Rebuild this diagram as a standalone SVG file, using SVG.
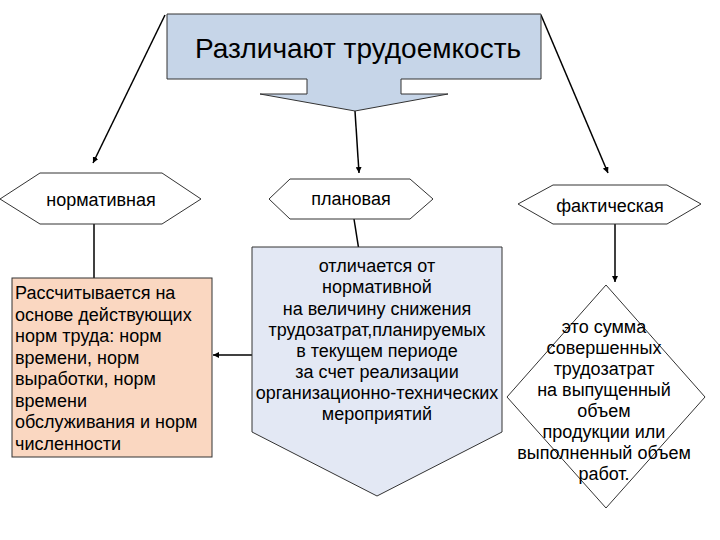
<svg xmlns="http://www.w3.org/2000/svg" width="720" height="540" viewBox="0 0 720 540">
<defs>
<style>
text{font-family:"Liberation Sans",Arial,sans-serif;fill:#000}
.t18{font-size:18px}
.mid{text-anchor:middle}
.shape{stroke:#333;stroke-width:1}
.conn{stroke:#000;stroke-width:1.5;fill:none}
</style>
<marker id="ah" viewBox="0 0 10 10" refX="10" refY="5" markerWidth="6" markerHeight="6" markerUnits="userSpaceOnUse" orient="auto">
<path d="M0,0 L10,5 L0,10 z" fill="#000"/>
</marker>
</defs>
<rect width="720" height="540" fill="#fff"/>
<g id="connectors">
<line class="conn" x1="165" y1="15" x2="93" y2="163" marker-end="url(#ah)"/>
<line class="conn" x1="355" y1="111" x2="359" y2="173" marker-end="url(#ah)"/>
<line class="conn" x1="541" y1="15" x2="608" y2="173" marker-end="url(#ah)"/>
<line class="conn" x1="94" y1="224" x2="94" y2="278"/>
<line class="conn" x1="354" y1="219" x2="360" y2="257" marker-end="url(#ah)"/>
<line class="conn" x1="615" y1="224" x2="615" y2="282" marker-end="url(#ah)"/>
<line class="conn" x1="258" y1="355" x2="213" y2="355" marker-end="url(#ah)"/>
</g>
<g id="title">
<polygon class="shape" fill="#c6d5e8" points="167,14 541,14 541,79 401,79 401,94 448,94 355,111 260,94 307,94 307,79 167,79"/>
<text x="358" y="58" font-size="28" class="mid">Различают трудоемкость</text>
</g>
<g id="normative">
<polygon class="shape" fill="#fff" points="0,199 40,173 162,173 201,199 162,224 40,224"/>
<text x="101" y="206" class="t18 mid">нормативная</text>
</g>
<g id="planned">
<polygon class="shape" fill="#fff" points="269,199 290,179 410,179 433,199 410,219 290,219"/>
<text x="351" y="205" class="t18 mid">плановая</text>
</g>
<g id="actual">
<polygon class="shape" fill="#fff" points="518,204 553,185 667,185 701,204 667,224 553,224"/>
<text x="610" y="212" class="t18 mid">фактическая</text>
</g>
<g id="normative-desc">
<rect class="shape" x="12" y="278" width="200" height="179" fill="#fad7c1"/>
<text class="t18" x="15" y="299">Рассчитывается на</text>
<text class="t18" x="15" y="320.5">основе действующих</text>
<text class="t18" x="15" y="342">норм труда: норм</text>
<text class="t18" x="15" y="363.5">времени, норм</text>
<text class="t18" x="15" y="385">выработки, норм</text>
<text class="t18" x="15" y="406.5">времени</text>
<text class="t18" x="15" y="428">обслуживания и норм</text>
<text class="t18" x="15" y="449.5">численности</text>
</g>
<g id="planned-desc">
<polygon class="shape" fill="#e3e8f4" points="252,247 502,247 502,432 377,496 252,432"/>
<text class="t18 mid" x="377" y="272">отличается от</text>
<text class="t18 mid" x="377" y="293">нормативной</text>
<text class="t18 mid" x="377" y="314.5">на величину снижения</text>
<text class="t18 mid" x="377" y="335.5">трудозатрат,планируемых</text>
<text class="t18 mid" x="377" y="356.5">в текущем периоде</text>
<text class="t18 mid" x="377" y="378">за счет реализации</text>
<text class="t18 mid" x="377" y="399">организационно-технических</text>
<text class="t18 mid" x="377" y="420">мероприятий</text>
</g>
<g id="actual-desc">
<polygon class="shape" fill="#fff" points="606,285 705,397 606,508 507,397"/>
<text class="t18 mid" x="604" y="333">это сумма</text>
<text class="t18 mid" x="604" y="354">совершенных</text>
<text class="t18 mid" x="604" y="375">трудозатрат</text>
<text class="t18 mid" x="604" y="396">на выпущенный</text>
<text class="t18 mid" x="604" y="417">объем</text>
<text class="t18 mid" x="604" y="438">продукции или</text>
<text class="t18 mid" x="604" y="459">выполненный объем</text>
<text class="t18 mid" x="604" y="480">работ.</text>
</g>
</svg>
